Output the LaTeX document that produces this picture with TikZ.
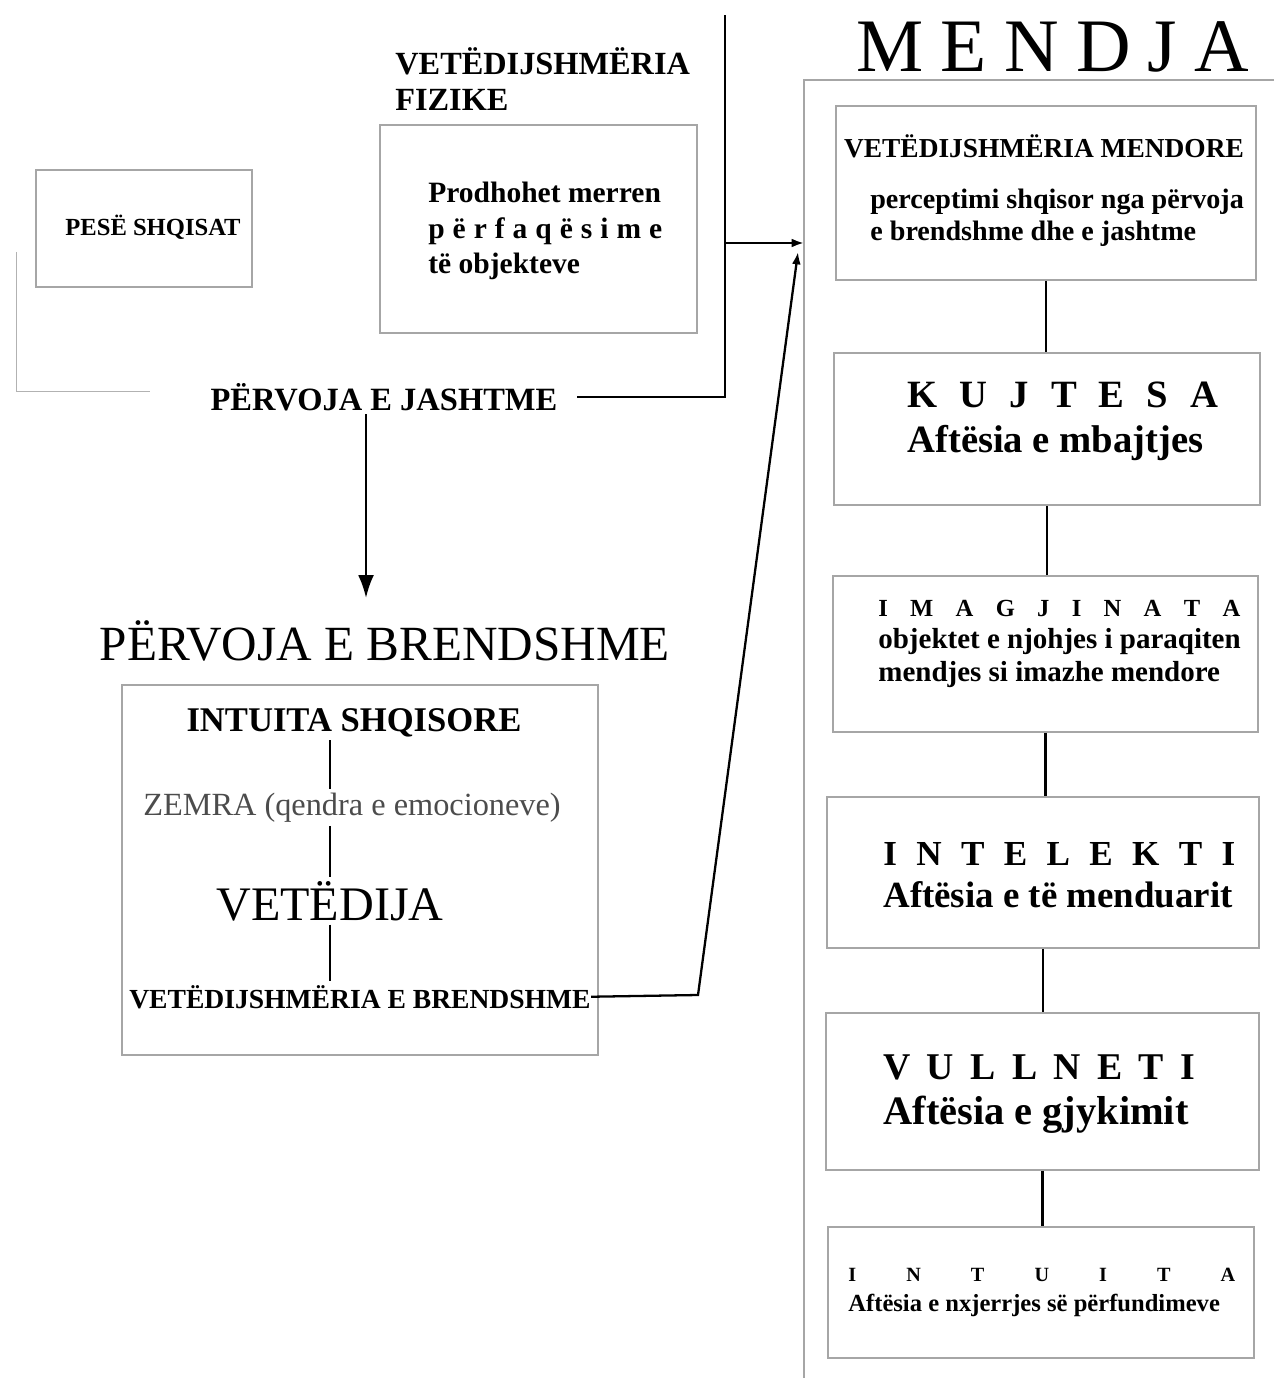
\documentclass[tikz,border=0pt]{standalone}
\usepackage{fontspec}
\setmainfont{Liberation Serif}
\usetikzlibrary{arrows.meta}

\newcommand*{\fs}[2]{\fontsize{#1}{#2}\selectfont}
\newcommand*{\spread}[2]{\makebox[#1][s]{#2}}
\newcommand*{\rows}[1]{\begin{tabular}[t]{@{}l@{}}#1\end{tabular}}

\tikzset{
	box/.style={draw=gray!70, line width=0.9pt, inner sep=0pt},
	link/.style={line width=1.3pt, black},
	txt/.style={inner sep=0pt, anchor=base west},
	ctr/.style={inner sep=0pt, inner ysep=2pt, anchor=base},
}

\begin{document}
\begin{tikzpicture}[x=0.02cm, y=-0.02cm]

	\useasboundingbox (0,0) rectangle (1274,1378);

	% left side: senses and outer experience
	\node[box, minimum width=4.32cm, minimum height=2.34cm] (shq) at (144,228.5) {};
	\node[ctr, font=\bfseries\fs{14}{16}] (shqt) at (153,236) {PESË SHQISAT};
	\draw[gray!60, line width=0.5pt] (16,252) -- (16,391) -- (150,391);

	\node[txt, font=\bfseries\fs{18.4}{20}] (fizt) at (395,75) {\rows{VETËDIJSHMËRIA\\FIZIKE}};
	\node[box, minimum width=6.34cm, minimum height=4.16cm] (fiz) at (538.5,229) {};
	\node[txt, font=\bfseries\fs{16.8}{20}] (prod) at (428,203)
		{\rows{Prodhohet merren\\\spread{4.68cm}{p ë r f a q ë s i m e}\\të objekteve}};

	\node[ctr, font=\bfseries\fs{18.5}{20}, inner xsep=11pt] (jash) at (384,410) {PËRVOJA E JASHTME};
	\coordinate (jtop) at (725,15);
	\coordinate (jmid) at (725,243);

	% inner experience
	\node[ctr, font=\fs{28}{30}] (brt) at (385,660) {PËRVOJA E BRENDSHME};
	\node[box, minimum width=9.52cm, minimum height=7.4cm] (inbox) at (360,870) {};
	\node[ctr, font=\bfseries\fs{19.7}{22}] (intu) at (354,731) {INTUITA SHQISORE};
	\node[ctr, font=\fs{18.4}{20}, text=black!70] (zemra) at (352,815) {ZEMRA (qendra e emocioneve)};
	\node[ctr, font=\fs{27.4}{30}] (vet) at (330,920) {VETËDIJA};
	\node[ctr, font=\bfseries\fs{15.7}{18}] (brend) at (360,1008) {VETËDIJSHMËRIA E BRENDSHME};

	\draw[link] (vet |- intu.south) -- (vet |- zemra.north);
	\draw[link] (vet |- zemra.south) -- (vet.north);
	\draw[link] (vet.south) -- (vet |- brend.north);

	% the mind
	\node[txt, font=\fs{43}{46}] (mendja) at (856,72) {\spread{7.86cm}{M E N D J A}};
	\coordinate (frtop) at (804,80);
	\draw[gray!70, line width=0.9pt] (1274,80) -- (frtop) -- (804,1378);

	\node[box, minimum width=8.4cm, minimum height=3.48cm] (m1) at (1046,193) {};
	\node[ctr, font=\bfseries\fs{15.6}{18}] (m1t) at (1044,158) {VETËDIJSHMËRIA MENDORE};
	\node[txt, font=\bfseries\fs{16}{18.2}] (m1s) at (870,209)
		{\rows{perceptimi shqisor nga përvoja\\e brendshme dhe e jashtme}};

	\node[box, minimum width=8.52cm, minimum height=3.04cm] (m2) at (1047,429) {};
	\node[txt, font=\bfseries\fs{22}{24}] (m2t) at (907,407) {\spread{6.22cm}{K U J T E S A}};
	\node[txt, font=\bfseries\fs{22}{24}] (m2s) at (907,452) {Aftësia e mbajtjes};

	\node[box, minimum width=8.5cm, minimum height=3.12cm] (m3) at (1045.5,654) {};
	\node[txt, font=\bfseries\fs{14}{16}] (m3t) at (878,616) {\spread{7.24cm}{I M A G J I N A T A}};
	\node[txt, font=\bfseries\fs{16.5}{18.8}] (m3s) at (878,648)
		{\rows{objektet e njohjes i paraqiten\\mendjes si imazhe mendore}};

	\node[box, minimum width=8.64cm, minimum height=3.02cm] (m4) at (1043,872.5) {};
	\node[txt, font=\bfseries\fs{20}{22}] (m4t) at (883,865) {\spread{7.04cm}{I N T E L E K T I}};
	\node[txt, font=\bfseries\fs{21}{24}] (m4s) at (883,907) {Aftësia e të menduarit};

	\node[box, minimum width=8.66cm, minimum height=3.14cm] (m5) at (1042.5,1091.5) {};
	\node[txt, font=\bfseries\fs{21.5}{24}] (m5t) at (883,1079) {\spread{6.24cm}{V U L L N E T I}};
	\node[txt, font=\bfseries\fs{23}{25}] (m5s) at (883,1124) {Aftësia e gjykimit};

	\node[box, minimum width=8.52cm, minimum height=2.62cm] (m6) at (1041,1292.5) {};
	\node[txt, font=\bfseries\fs{11.5}{13}] (m6t) at (848,1281) {\spread{7.74cm}{I N T U I T A}};
	\node[txt, font=\bfseries\fs{14}{16}] (m6s) at (848,1311) {Aftësia e nxjerrjes së përfundimeve};

	\foreach \a/\b in {m1/m2, m2/m3, m3/m4, m4/m5, m5/m6}
		\draw[link] (\a.south) -- (\a.south |- \b.north);

	% connectors
	\draw[link] (jash.east) -- (jash.east -| jtop) -- (jtop);
	\draw[link, -{Latex[length=7pt, width=5pt]}] (jmid) -- (jmid -| frtop);
	\draw[link, -{Latex[length=13pt, width=9pt]}] ([xshift=-0.36cm]jash.south) -- ([xshift=-0.36cm]jash.south |- 0,598);
	\coordinate (bknee) at (698,995);
	\coordinate (btip) at (798,252);
	\draw[link, -{Latex[length=7pt, width=5pt]}] (brend.east) -- (bknee) -- (btip);

\end{tikzpicture}
\end{document}
